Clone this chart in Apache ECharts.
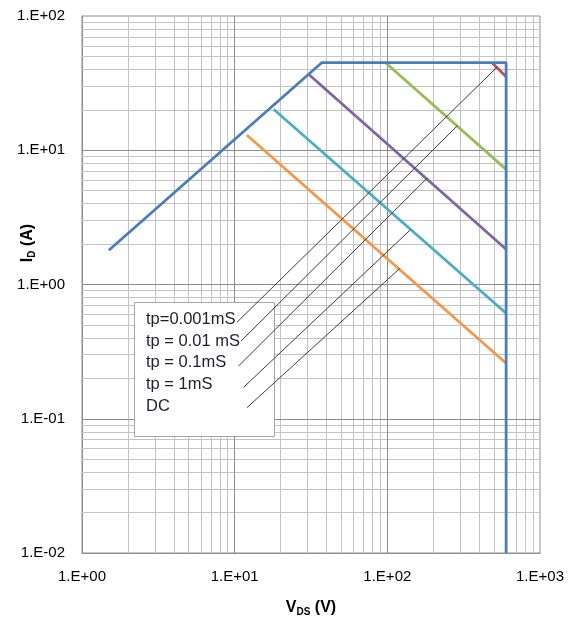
<!DOCTYPE html>
<html>
<head>
<meta charset="utf-8">
<script src="https://cdn.jsdelivr.net/npm/echarts@6/dist/echarts.min.js"></script>
<style>html,body{margin:0;padding:0;background:#fff;}#c{width:575px;height:624px;}</style>
</head>
<body>
<div id="c"></div>
<script>
// ---- data ----
const xTickLabels = ['1.E+00', '1.E+01', '1.E+02', '1.E+03'];
const yTickLabels = ['1.E-02', '1.E-01', '1.E+00', '1.E+01', '1.E+02'];

const envelopeV = [1.5, 37.3, 600, 600];
const envelopeI = [1.8, 45, 45, 0.01];

const tp0001V = [484, 600];
const tp0001I = [45, 35.3];
const tp001V = [97, 600];
const tp001I = [45, 7.2];
const tp01V = [30.5, 600];
const tp01I = [36.8, 1.83];
const tp1V = [18.0, 600];
const tp1I = [20.2, 0.61];
const dcV = [12.0, 600];
const dcI = [13.0, 0.259];

const legendLabels = ['tp=0.001mS', 'tp = 0.01 mS', 'tp = 0.1mS', 'tp = 1mS', 'DC'];
const calloutFromV = [10.35, 11.0, 10.6, 11.44, 12.04];
const calloutFromI = [0.523, 0.379, 0.247, 0.1715, 0.121];
const calloutToV = [524, 287, 182.5, 141.3, 121.5];
const calloutToI = [41.7, 15.2, 6.21, 2.55, 1.327];

// ---- helpers ----
const zip = (xs, ys) => xs.map((x, i) => [x, ys[i]]);
const FONT = '"Liberation Sans", Arial, sans-serif';

function decadeIndex(v, minExp) {
  return Math.round(Math.log10(v)) - minExp;
}

function minorValues(minExp, maxExp) {
  const out = [];
  for (let e = minExp; e < maxExp; e++) {
    for (let k = 2; k <= 9; k++) out.push(k * Math.pow(10, e));
  }
  return out;
}
function majorValues(minExp, maxExp) {
  const out = [];
  for (let e = minExp + 1; e < maxExp; e++) out.push(Math.pow(10, e));
  return out;
}

const minorColor = '#c4c4c4';
const majorColor = '#8e8e8e';

const gridMark = [];
minorValues(0, 3).forEach(v => gridMark.push({ xAxis: v, lineStyle: { color: minorColor } }));
minorValues(-2, 2).forEach(v => gridMark.push({ yAxis: v, lineStyle: { color: minorColor } }));
majorValues(0, 3).forEach(v => gridMark.push({ xAxis: v, lineStyle: { color: majorColor } }));
majorValues(-2, 2).forEach(v => gridMark.push({ yAxis: v, lineStyle: { color: majorColor } }));

const colors = {
  env: '#4a7ebb',
  red: '#c0504d',
  green: '#9bbb59',
  purple: '#8064a2',
  teal: '#4bacc6',
  orange: '#f79646'
};

function lineSeries(name, data, color, width, z) {
  return {
    name: name,
    type: 'line',
    data: data,
    symbol: 'none',
    lineStyle: { color: color, width: width },
    itemStyle: { color: color },
    silent: true,
    z: z
  };
}

const series = [
  {
    type: 'line',
    data: [],
    silent: true,
    z: 1,
    markLine: {
      z: 1,
      silent: true,
      symbol: 'none',
      label: { show: false },
      lineStyle: { width: 1, type: 'solid' },
      animation: false,
      data: gridMark
    }
  },
  lineSeries('envelope', zip(envelopeV, envelopeI), colors.env, 2.8, 12),
  lineSeries('tp=0.001mS', zip(tp0001V, tp0001I), colors.red, 2.8, 10),
  lineSeries('tp=0.01mS', zip(tp001V, tp001I), colors.green, 2.8, 10),
  lineSeries('tp=0.1mS', zip(tp01V, tp01I), colors.purple, 2.8, 10),
  lineSeries('tp=1mS', zip(tp1V, tp1I), colors.teal, 2.8, 10),
  lineSeries('DC', zip(dcV, dcI), colors.orange, 2.8, 10)
];

for (let i = 0; i < calloutFromV.length; i++) {
  series.push(lineSeries('callout' + i,
    [[calloutFromV[i], calloutFromI[i]], [calloutToV[i], calloutToI[i]]],
    '#3c3c3c', 1, 11));
}

// legend box graphics (annotation)
const graphics = [
  {
    type: 'rect',
    z: 5,
    shape: { x: 134.5, y: 302.5, width: 140, height: 134 },
    style: { fill: '#ffffff', stroke: '#a8a8a8', lineWidth: 1 }
  }
];
legendLabels.forEach((t, i) => {
  graphics.push({
    type: 'text',
    z: 6,
    style: {
      x: 146,
      y: 319.5 + i * 21.7,
      text: t,
      font: '16.5px ' + FONT,
      fill: '#1e1e30',
      verticalAlign: 'middle',
      align: 'left'
    }
  });
});
// y axis title
graphics.push({
  type: 'text',
  z: 6,
  x: 28,
  y: 243,
  rotation: Math.PI / 2,
  style: {
    text: '{b|I}{s|D}{b| (A)}',
    align: 'center',
    verticalAlign: 'middle',
    fill: '#000',
    rich: {
      b: { fontFamily: FONT, fontWeight: 'bold', fontSize: 16, lineHeight: 18, fill: '#000' },
      s: { fontFamily: FONT, fontWeight: 'bold', fontSize: 10, lineHeight: 18, verticalAlign: 'bottom', fill: '#000' }
    }
  }
});

const chart = echarts.init(document.getElementById('c'), null, { renderer: 'canvas' });
chart.setOption({
  animation: false,
  backgroundColor: '#fff',
  grid: {
    left: 82, right: 35, top: 16, bottom: 71,
    show: true, borderColor: '#8e8e8e', borderWidth: 1,
    containLabel: false
  },
  xAxis: {
    type: 'log',
    logBase: 10,
    min: 1,
    max: 1000,
    axisLine: { show: true, lineStyle: { color: '#8e8e8e', width: 1 } },
    axisTick: { show: false },
    splitLine: { show: false },
    axisLabel: {
      margin: 16,
      color: '#000',
      fontFamily: FONT,
      fontSize: 15,
      formatter: v => xTickLabels[decadeIndex(v, 0)] || ''
    },
    name: '{b|V}{s|DS}{b| (V)}',
    nameLocation: 'middle',
    nameGap: 46,
    nameTextStyle: {
      rich: {
        b: { fontFamily: FONT, fontWeight: 'bold', fontSize: 16, lineHeight: 18, color: '#000' },
        s: { fontFamily: FONT, fontWeight: 'bold', fontSize: 10, lineHeight: 18, verticalAlign: 'bottom', color: '#000' }
      }
    }
  },
  yAxis: {
    type: 'log',
    logBase: 10,
    min: 0.01,
    max: 100,
    axisLine: { show: true, lineStyle: { color: '#8e8e8e', width: 1 } },
    axisTick: { show: false },
    splitLine: { show: false },
    axisLabel: {
      margin: 17,
      color: '#000',
      fontFamily: FONT,
      fontSize: 15,
      formatter: v => yTickLabels[decadeIndex(v, -2)] || ''
    }
  },
  graphic: graphics,
  series: series
});
</script>
</body>
</html>
